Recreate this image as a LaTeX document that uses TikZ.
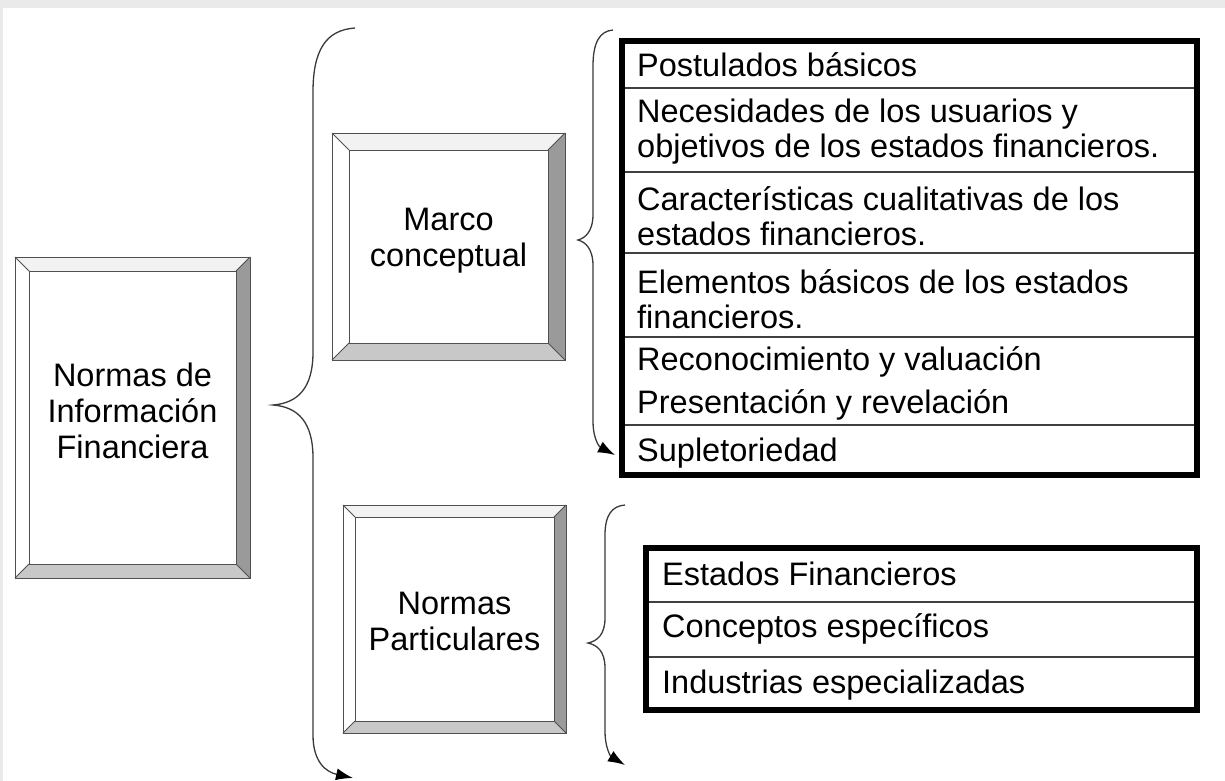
\documentclass[tikz,border=0pt]{standalone}
\usepackage{fontspec}
\setmainfont{Liberation Sans}
\usetikzlibrary{arrows.meta}
\definecolor{bgframe}{HTML}{EBEAEA}
\definecolor{bevR}{HTML}{9A9A9A}
\definecolor{bevB}{HTML}{C8C8C8}
\definecolor{bevT}{HTML}{F2F2F2}
\definecolor{edgecol}{HTML}{505050}
\definecolor{bracecol}{HTML}{3A3A3A}
\definecolor{rulecol}{HTML}{404040}
\tikzset{
  boxedge/.style={draw=edgecol, line width=1pt},
  boxtext/.style={align=center, inner sep=0pt, font=\fontsize{32.5}{36}\selectfont},
  rowtext/.style={align=left, anchor=west, inner sep=0pt, font=\fontsize{32.5}{35}\selectfont},
  bracel/.style={draw=bracecol, line width=1.3pt},
  bracearrow/.style={bracel, -{Latex[length=17pt,width=12pt,fill=black,color=black]}},
  tabrule/.style={draw=rulecol, line width=1.3pt},
  tabframe/.style={draw=black, line width=6.5pt},
}
% name, x1, y1, x2, y2, bevel, text, text y offset
\newcommand{\BevelBox}[8]{%
  \pgfmathsetmacro{\bax}{#2+#6}\pgfmathsetmacro{\bay}{#3+#6}%
  \pgfmathsetmacro{\bbx}{#4-#6}\pgfmathsetmacro{\bby}{#5-#6}%
  \fill[white] (#2,#3) -- (#2,#5) -- (\bax,\bby) -- (\bax,\bay) -- cycle;
  \fill[bevT] (#2,#3) -- (#4,#3) -- (\bbx,\bay) -- (\bax,\bay) -- cycle;
  \fill[bevR] (#4,#3) -- (#4,#5) -- (\bbx,\bby) -- (\bbx,\bay) -- cycle;
  \fill[bevB] (#2,#5) -- (#4,#5) -- (\bbx,\bby) -- (\bax,\bby) -- cycle;
  \draw[boxedge] (#2,#3) rectangle (#4,#5);
  \draw[boxedge] (\bax,\bay) rectangle (\bbx,\bby);
  \draw[boxedge] (#2,#3) -- (\bax,\bay) (#4,#3) -- (\bbx,\bay)
                 (#2,#5) -- (\bax,\bby) (#4,#5) -- (\bbx,\bby);
  \node[boxtext] (#1) at ({(#2+#4)/2},{(#3+#5)/2+#8}) {#7};
}
\begin{document}
\begin{tikzpicture}[x=1pt,y=-1pt]
\useasboundingbox (0,0) rectangle (1225,781);
\fill[bgframe] (0,0) rectangle (1225,781);
\fill[white] (3,8) rectangle (1225,781);

% bevel boxes
\BevelBox{nif}{15}{257}{250}{578}{14}{Normas de\\Información\\Financiera}{-7}
\BevelBox{marco}{332}{133}{565}{360}{17}{Marco\\conceptual}{-6}
\BevelBox{part}{343}{505}{566}{733}{12}{Normas\\Particulares}{2}

% braces
\coordinate (b1s) at (355,28);
\coordinate (b1t) at (273,405);
\coordinate (b1e) at (353,778);
\draw[bracearrow] (b1s) .. controls (326,30) and (313,50) .. (313,92)
  -- (313,352) .. controls (313,388) and (298,403) .. (b1t)
  .. controls (298,407) and (313,422) .. (313,458)
  -- (313,735) .. controls (313,762) and (326,772) .. (b1e);

\coordinate (b2s) at (613,30);
\coordinate (b2t) at (578,240);
\coordinate (b2e) at (615,455);
\draw[bracearrow] (b2s) .. controls (600,31) and (593,42) .. (593,66)
  -- (593,214) .. controls (593,232) and (585,238) .. (b2t)
  .. controls (585,242) and (593,248) .. (593,266)
  -- (593,422) .. controls (593,436) and (598,446) .. (b2e);

\coordinate (b3s) at (625,505);
\coordinate (b3t) at (588,643);
\coordinate (b3e) at (625,765);
\draw[bracearrow] (b3s) .. controls (612,506) and (605,515) .. (605,535)
  -- (605,618) .. controls (605,635) and (597,641) .. (b3t)
  .. controls (597,645) and (605,651) .. (605,668)
  -- (605,732) .. controls (605,746) and (610,756) .. (b3e);

% table 1
\draw[tabrule] (622,88) -- (1197,88);
\draw[tabrule] (622,172) -- (1197,172);
\draw[tabrule] (622,253) -- (1197,253);
\draw[tabrule] (622,337) -- (1197,337);
\draw[tabrule] (622,425) -- (1197,425);
\draw[tabframe] (622,41) rectangle (1197,475);
\node[rowtext] (r1) at (637,65) {Postulados básicos};
\node[rowtext] (r2) at (637,132) {Necesidades de los usuarios y\\objetivos de los estados financieros.};
\node[rowtext] (r3) at (637,216) {Características cualitativas de los\\estados financieros.};
\node[rowtext] (r4) at (637,299) {Elementos básicos de los estados\\financieros.};
\node[rowtext] (r5) at (637,362) {Reconocimiento y valuación};
\node[rowtext] (r6) at (637,405) {Presentación y revelación};
\node[rowtext] (r7) at (637,453) {Supletoriedad};

% table 2
\draw[tabrule] (646,602) -- (1197,602);
\draw[tabrule] (646,657) -- (1197,657);
\draw[tabframe] (646,548) rectangle (1197,710);
\node[rowtext] (s1) at (662,574) {Estados Financieros};
\node[rowtext] (s2) at (662,629) {Conceptos específicos};
\node[rowtext] (s3) at (662,685) {Industrias especializadas};
\end{tikzpicture}
\end{document}
